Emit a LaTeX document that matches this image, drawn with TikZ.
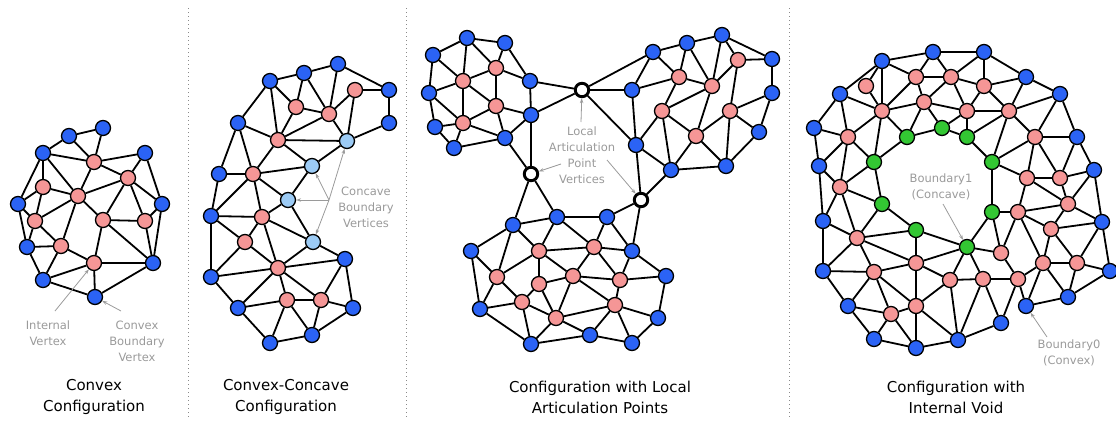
\documentclass[tikz,border=0pt]{standalone}
\usepackage{fontspec}
\setmainfont{DejaVu Sans}
\usetikzlibrary{arrows.meta}
\definecolor{vblue}{HTML}{2B63F5}
\definecolor{vpink}{HTML}{F59696}
\definecolor{vlblue}{HTML}{9CCBF5}
\definecolor{vgreen}{HTML}{33C733}
\definecolor{vgray}{HTML}{9A9A9A}
\definecolor{sepgray}{HTML}{8A8A8A}
\tikzset{
 vx/.style={circle, draw=black, line width=1.3pt, minimum size=15pt, inner sep=0pt},
 bn/.style={vx, fill=vblue},
 pn/.style={vx, fill=vpink},
 ln/.style={vx, fill=vlblue},
 gn/.style={vx, fill=vgreen},
 wn/.style={circle, draw=black, line width=2.9pt, fill=white, minimum size=13.5pt, inner sep=0pt},
 edge/.style={line width=1.8pt, black},
 garrow/.style={draw=vgray, line width=0.8pt, -{Stealth[length=5pt,width=3.5pt]}},
 glabel/.style={text=vgray, font=\fontsize{11.5}{16}\selectfont, align=center, inner sep=0pt},
 ttl/.style={font=\fontsize{15}{21}\selectfont, align=center, inner sep=0pt},
 sepline/.style={draw=sepgray, line width=1pt, dash pattern=on 1pt off 3pt}
}
\begin{document}
\begin{tikzpicture}[x=1pt,y=-1pt]
\useasboundingbox (0,0) rectangle (1116,423);
% separators
\coordinate (s1a) at (188,8); \coordinate (s1b) at (188,420);
\coordinate (s2a) at (406,8); \coordinate (s2b) at (406,420);
\coordinate (s3a) at (789,8); \coordinate (s3b) at (789,420);
\draw[sepline] (s1a) -- (s1b);
\draw[sepline] (s2a) -- (s2b);
\draw[sepline] (s3a) -- (s3b);

% ---------- Panel 1 ----------
\foreach \n/\x/\y in {Ab1/69/136, Ab2/103/128, Ab3/43/153, Ab4/145/153, Ab5/18/204, Ab6/162/204, Ab7/27/247, Ab8/153/263, Ab9/43/280, Ab10/95/297}
  \node[bn] (\n) at (\x,\y) {};
\foreach \n/\x/\y in {Ap1/94/162, Ap2/128/178, Ap3/43/187, Ap4/78/196, Ap5/35/221, Ap6/103/220, Ap7/145/221, Ap8/61/246, Ap9/94/263}
  \node[pn] (\n) at (\x,\y) {};
\foreach \u/\v in {Ab1/Ab2, Ab1/Ab3, Ab1/Ap1, Ab2/Ap1, Ab4/Ap1, Ab4/Ap2, Ab4/Ab6, Ab3/Ap1, Ab3/Ap3, Ab3/Ap4, Ab3/Ab5, Ap1/Ap4, Ap1/Ap2, Ap2/Ap4, Ap2/Ap6, Ap2/Ap7, Ap2/Ab6, Ap3/Ap4, Ap3/Ab5, Ap3/Ap5, Ab5/Ap5, Ab5/Ab7, Ap4/Ap5, Ap4/Ap6, Ap4/Ap8, Ap6/Ap7, Ap6/Ap9, Ap6/Ab8, Ap7/Ab6, Ap7/Ab8, Ab6/Ab8, Ap5/Ap8, Ap5/Ab7, Ab7/Ap8, Ab7/Ab9, Ap8/Ap9, Ap8/Ab9, Ap9/Ab8, Ap9/Ab10, Ap9/Ab9, Ab9/Ab10, Ab10/Ab8}
  \draw[edge] (\u) -- (\v);
\node[glabel] (lint) at (48,333) {Internal\\Vertex};
\node[glabel] (lcbv) at (137,341) {Convex\\Boundary\\Vertex};
\coordinate (aint) at (55,311);
\coordinate (acbv) at (121,311);
\draw[garrow] (aint) -- (Ap9);
\draw[garrow] (acbv) -- (Ab10);
\node[ttl] (t1) at (94,397) {Convex\\Configuration};

% ---------- Panel 2 ----------
\foreach \n/\x/\y in {Bb1/338/64, Bb2/304/73, Bb3/270/81, Bb4/389/90, Bb5/389/123, Bb6/238/123, Bb7/219/174, Bb8/211/216, Bb9/211/277, Bb10/345/259, Bb11/238/308, Bb12/353/308, Bb13/312/335, Bb14/270/343}
  \node[bn] (\n) at (\x,\y) {};
\foreach \n/\x/\y in {Bp1/355/90, Bp2/296/107, Bp3/329/114, Bp4/278/140, Bp5/253/174, Bp6/262/217, Bp7/245/242, Bp8/278/268, Bp9/287/300, Bp10/321/300}
  \node[pn] (\n) at (\x,\y) {};
\foreach \n/\x/\y in {Bl1/347/141, Bl2/312/166, Bl3/288/200, Bl4/313/242}
  \node[ln] (\n) at (\x,\y) {};
\foreach \u/\v in {Bb3/Bb2, Bb2/Bb1, Bb1/Bb4, Bb4/Bb5, Bb4/Bp1, Bb1/Bp3, Bp1/Bp3, Bp1/Bl1, Bb5/Bl1, Bb3/Bb6, Bb3/Bp4, Bb3/Bp2, Bb2/Bp2, Bb2/Bp3, Bp2/Bp3, Bp2/Bp4, Bp3/Bp4, Bp3/Bl1, Bp4/Bb6, Bp4/Bp5, Bp4/Bl2, Bp4/Bl1, Bb6/Bb7, Bb6/Bp5, Bp5/Bb7, Bp5/Bb8, Bp5/Bp6, Bp5/Bl2, Bp5/Bl3, Bb7/Bb8, Bb8/Bp6, Bb8/Bp7, Bb8/Bb9, Bp6/Bl3, Bp6/Bp7, Bp6/Bp8, Bp6/Bl4, Bl3/Bl2, Bl3/Bl4, Bl2/Bl1, Bp7/Bb9, Bp7/Bp8, Bb9/Bp8, Bb9/Bb11, Bp8/Bl4, Bp8/Bb10, Bp8/Bb11, Bp8/Bp9, Bp8/Bp10, Bl4/Bb10, Bb10/Bb12, Bb10/Bp10, Bp10/Bb12, Bp10/Bb13, Bp10/Bp9, Bp9/Bb11, Bp9/Bb13, Bp9/Bb14, Bb11/Bb14, Bb14/Bb13, Bb13/Bb12}
  \draw[edge] (\u) -- (\v);
\node[glabel] (lcon) at (366,207) {Concave\\Boundary\\Vertices};
\coordinate (acon) at (329,200);
\foreach \t in {Bl1, Bl2, Bl3, Bl4}
  \draw[garrow] (acon) -- (\t);
\node[ttl] (t2) at (286,397) {Convex-Concave\\Configuration};

% ---------- Panel 3 ----------
\foreach \n/\x/\y in {Cc1/467/38, Cc2/505/43, Cc3/433/55, Cc4/429/93, Cc5/530/81, Cc6/531/115, Cc7/435/127, Cc8/454/148, Cc9/505/138,
  Cd1/722/35, Cd2/687/43, Cd3/653/52, Cd4/772/59, Cd5/632/90, Cd6/772/93, Cd7/759/132, Cd8/636/145, Cd9/726/166, Cd10/671/170,
  Ce1/513/225, Ce2/557/217, Ce3/607/217, Ce4/471/251, Ce5/632/251, Ce6/666/276, Ce7/480/309, Ce8/658/318, Ce9/590/335, Ce10/531/344, Ce11/632/343}
  \node[bn] (\n) at (\x,\y) {};
\foreach \n/\x/\y in {Cq1/496/68, Cq2/463/81, Cq3/496/106, Cq4/463/123,
  Cr1/738/60, Cr2/679/77, Cr3/712/86, Cr4/662/111, Cr5/730/111, Cr6/696/136,
  Cs1/539/251, Cs2/594/247, Cs3/497/277, Cs4/573/276, Cs5/620/280, Cs6/539/284, Cs7/522/302, Cs8/615/305, Cs9/556/318}
  \node[pn] (\n) at (\x,\y) {};
\foreach \n/\x/\y in {Cw1/582/90, Cw2/531/174, Cw3/641/200}
  \node[wn] (\n) at (\x,\y) {};
\foreach \u/\v in {Cc3/Cc1, Cc1/Cc2, Cc1/Cq2, Cc1/Cq1, Cc2/Cq1, Cc2/Cc5, Cc3/Cc4, Cc3/Cq2, Cc4/Cq2, Cc4/Cc7, Cc4/Cq4, Cq2/Cq1, Cq2/Cq3, Cq2/Cq4, Cq1/Cq3, Cq1/Cc5, Cq3/Cq4, Cq3/Cc6, Cq3/Cc9, Cc5/Cc6, Cc6/Cc9, Cc5/Cw1, Cc6/Cw1, Cc6/Cw2, Cc9/Cw2, Cc7/Cq4, Cc7/Cc8, Cc8/Cq4, Cc8/Cc9, Cq4/Cc9,
  Cw1/Cd3, Cw1/Cd5, Cw1/Cd8, Cd3/Cd2, Cd2/Cd1, Cd1/Cd4, Cd4/Cd6, Cd6/Cd7, Cd7/Cd9, Cd9/Cd10, Cd10/Cw3, Cw3/Cd8, Cd8/Cd5, Cd3/Cd5, Cd3/Cr2, Cd2/Cr2, Cd2/Cr3, Cd1/Cr3, Cd1/Cr1, Cr1/Cd4, Cr1/Cr3, Cr1/Cr5, Cr2/Cr3, Cr2/Cr4, Cr2/Cd5, Cr3/Cr4, Cr3/Cr6, Cr4/Cd8, Cr4/Cd10, Cr4/Cr6, Cr6/Cd10, Cr6/Cr5, Cr6/Cd9, Cr5/Cd9, Cr5/Cd6, Cr5/Cd7, Cd8/Cd10,
  Cw2/Ce1, Cw2/Ce2, Cw3/Ce3, Cw3/Ce5, Ce1/Ce2, Ce2/Ce3, Ce1/Ce4, Ce1/Cs1, Ce1/Cs3, Ce2/Cs1, Ce2/Cs2, Ce3/Cs2, Ce3/Ce5, Ce4/Cs3, Ce4/Ce7, Cs1/Cs2, Cs1/Cs3, Cs1/Cs6, Cs1/Cs4, Cs2/Cs4, Cs2/Ce5, Cs2/Cs5, Ce5/Cs5, Ce5/Ce6, Cs3/Cs7, Cs3/Ce7, Cs4/Cs6, Cs4/Cs5, Cs4/Cs9, Cs4/Cs8, Cs5/Cs8, Cs5/Ce6, Cs6/Cs7, Cs6/Cs9, Ce7/Cs7, Ce7/Ce10, Cs7/Ce10, Cs7/Cs9, Cs9/Ce10, Cs9/Ce9, Cs9/Cs8, Cs8/Ce9, Cs8/Ce11, Cs8/Ce8, Ce6/Ce8, Ce8/Ce11, Ce9/Ce11, Ce9/Ce10}
  \draw[edge] (\u) -- (\v);
\node[glabel] (lart) at (582,155) {Local\\Articulation\\Point\\Vertices};
\coordinate (aart1) at (581,122);
\coordinate (aart2) at (561,164);
\coordinate (aart3) at (607,160);
\draw[garrow] (aart1) -- (Cw1);
\draw[garrow] (aart2) -- (Cw2);
\draw[garrow] (aart3) -- (Cw3);
\node[ttl] (t3) at (600,397) {Configuration with Local\\Articulation Points};

% ---------- Panel 4 ----------
\foreach \n/\x/\y in {Df1/882/61, Df2/933/52, Df3/840/94, Df4/814/128, Df5/819/166, Df6/984/52, Df7/1026/77, Df8/1060/94, Df9/1077/137, Df10/1094/170, Df11/823/221, Df12/823/271, Df13/848/306, Df14/874/339, Df15/916/348, Df16/958/340, Df17/1102/222, Df18/1110/271, Df19/1068/297, Df20/1026/306, Df21/1001/323}
  \node[bn] (\n) at (\x,\y) {};
\foreach \n/\x/\y in {Dg1/866/86, Dg2/916/77, Dg3/951/77, Dg4/882/111, Dg5/924/102, Dg6/848/137, Dg7/840/187, Dg8/984/86, Dg9/967/111, Dg10/1009/111, Dg11/1035/137, Dg12/1027/178, Dg13/1060/178, Dg14/1068/204, Dg15/1018/212, Dg16/857/238, Dg17/874/272, Dg18/916/263, Dg19/950/280, Dg20/891/314, Dg21/916/306, Dg22/1051/229, Dg23/1001/253, Dg24/1043/263, Dg25/1077/263, Dg26/983/279, Dg27/1018/279}
  \node[pn] (\n) at (\x,\y) {};
\foreach \n/\x/\y in {Dh1/907/137, Dh2/942/128, Dh3/874/162, Dh4/882/204, Dh5/967/137, Dh6/992/162, Dh7/992/212, Dh8/916/230, Dh9/967/247}
  \node[gn] (\n) at (\x,\y) {};
\foreach \u/\v in {Df1/Df2, Df1/Df3, Df1/Dg1, Dg1/Dg4, Df3/Dg4, Df1/Dg4, Df1/Dg2, Df2/Dg2, Df2/Dg3, Df2/Df6, Dg2/Dg3, Dg2/Dg5, Dg2/Dg4, Dg3/Dg5, Dg3/Dg9, Dg3/Dg8, Dg3/Df6, Dg4/Dg5, Dg4/Dh1, Dg4/Dh3, Dg4/Dg6, Dg5/Dh1, Dg5/Dh2, Dg5/Dg9, Df3/Dg6, Df3/Df4, Df4/Dg6, Df4/Df5, Dg6/Dh3, Dg6/Df5, Dg6/Dg7, Dh1/Dh2, Dh1/Dh3, Dh3/Dh4, Dh3/Dg7, Df5/Dg7, Df5/Df11, Dg7/Df11, Dg7/Dg16, Dg7/Dh4, Dh4/Dh8, Dh4/Dg16, Df11/Dg16, Df11/Df12, Dg16/Dh8, Dg16/Df12, Dg16/Dg17, Dg16/Dg18, Dh8/Dh9, Dh8/Dg18, Dg18/Dh9, Dg18/Dg17, Dg18/Dg21, Dg18/Dg19, Dg17/Df12, Dg17/Df13, Dg17/Dg20, Dg17/Dg21, Dh9/Dg19, Dg19/Df16, Dg19/Dg21, Df12/Df13, Df13/Dg20, Df13/Df14, Dg20/Df14, Dg20/Dg21, Dg20/Df15, Dg21/Df15, Dg21/Df16, Df14/Df15, Df15/Df16,
  Df6/Dg8, Df6/Df7, Dg8/Df7, Dg8/Dg10, Dg8/Dg9, Df7/Dg10, Df7/Df8, Df8/Dg10, Df8/Dg11, Df8/Df9, Dg9/Dg10, Dg9/Dh5, Dh2/Dh5, Dh2/Dg9, Dg10/Dh5, Dg10/Dh6, Dg10/Dg11, Dh5/Dh6, Dg11/Dh6, Dg11/Df9, Dg11/Dg12, Dg11/Dg13, Df9/Df10, Df9/Dg13, Dh6/Dg12, Dh6/Dh7, Dg12/Dg13, Dg12/Dg14, Dg12/Dg15, Dg13/Dg14, Dg13/Df10, Df10/Dg14, Df10/Df17, Dh7/Dg15, Dh7/Dh9, Dh7/Dg23, Dg15/Dg23, Dg15/Dg22, Dg15/Dg14, Dg15/Dg24, Dg14/Dg22, Dg14/Df17, Dg22/Dg24, Dg22/Dg25, Dg22/Df17, Df17/Dg25, Df17/Df18, Dh9/Dg23, Dh9/Dg26, Dg23/Dg27, Dg24/Dg25, Dg24/Df19, Dg24/Df20, Dg24/Dg27, Dg25/Df18, Dg25/Df19, Dg26/Dg27, Dg26/Df21, Dg26/Df16, Dg26/Dg19, Dg27/Df21, Dg27/Df20, Df21/Df16, Df19/Df18, Df19/Df20}
  \draw[edge] (\u) -- (\v);
\node[glabel] (lb1) at (941,187) {Boundary1\\(Concave)};
\node[glabel] (lb0) at (1069,353) {Boundary0\\(Convex)};
\coordinate (ab1) at (943,204);
\coordinate (ab0) at (1047,337);
\draw[garrow] (ab1) -- (Dh9);
\draw[garrow] (ab0) -- (Df20);
\node[ttl] (t4) at (956,397) {Configuration with\\Internal Void};
\end{tikzpicture}
\end{document}
